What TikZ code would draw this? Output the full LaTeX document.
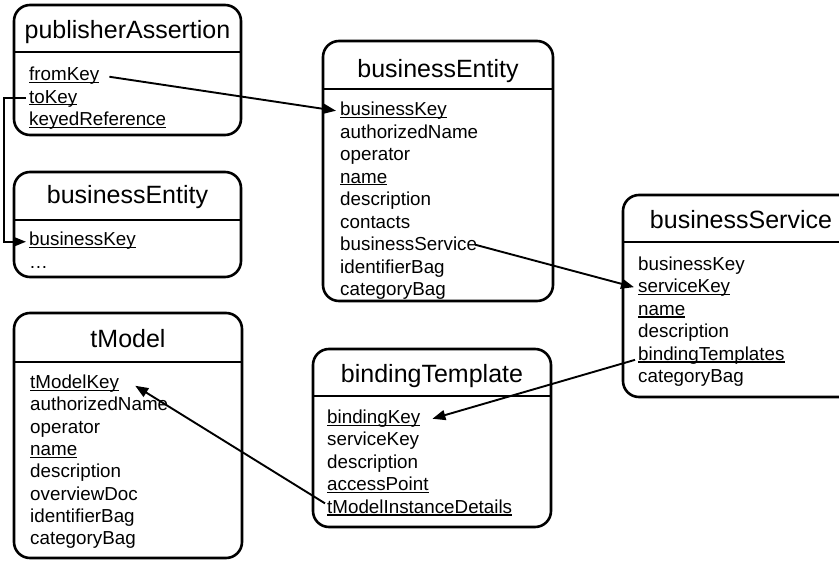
\documentclass[tikz,border=0pt]{standalone}
\usepackage{fontspec}
\setmainfont{Liberation Sans}
\usetikzlibrary{arrows.meta}
\newcommand\ulx[1]{\setbox0\hbox{#1}\rlap{\rule[-2.4pt]{\wd0}{1.3pt}}\box0}
\begin{document}
\begin{tikzpicture}[x=1pt,y=-1pt,
 boxline/.style={line width=2.6pt, rounded corners=16pt},
 divline/.style={line width=2.2pt},
 item/.style={anchor=base west, inner sep=0pt, font=\fontsize{18.8}{22}\selectfont, text height=13.5pt, text depth=4pt},
 ttl/.style={anchor=base, inner sep=0pt, font=\fontsize{25}{30}\selectfont},
 conn/.style={line width=1.9pt},
 arr/.style={conn, -{Triangle[length=13pt,width=10pt]}}]
\useasboundingbox (0,0) rectangle (839,562);
\clip (0,0) rectangle (839,562);

% boxes
\draw[boxline] (14,5) rectangle (241,135);
\draw[divline] (14,52) -- (241,52);
\draw[boxline] (14,172) rectangle (241,277);
\draw[divline] (14,220) -- (241,220);
\draw[boxline] (323,41) rectangle (553,301);
\draw[divline] (323,89) -- (553,89);
\draw[boxline] (623,195) rectangle (859,397);
\draw[divline] (623,242) -- (859,242);
\draw[boxline] (14,313) rectangle (242,558);
\draw[divline] (14,362) -- (242,362);
\draw[boxline] (313,349) rectangle (551,527);
\draw[divline] (313,396) -- (551,396);

% titles
\node[ttl] (tPA) at (127.5,38.5) {publisherAssertion};
\node[ttl] (tSBE) at (127.5,203.5) {businessEntity};
\node[ttl] (tBE) at (438,77.5) {businessEntity};
\node[ttl] (tBS) at (741,228.5) {businessService};
\node[ttl] (tTM) at (128,347.5) {tModel};
\node[ttl] (tBT) at (432,382.5) {bindingTemplate};

% publisherAssertion
\node[item] (paFrom) at (29,80.5) {\ulx{fromKey}};
\node[item] (paTo) at (29,103) {\ulx{toKey}};
\node[item] (paKR) at (29,125.5) {\ulx{keyedReference}};

% small businessEntity
\node[item] (sbeKey) at (29,245.5) {\ulx{businessKey}};
\node[item] (sbeDots) at (29,268) {…};

% big businessEntity
\node[item] (beKey) at (340,115.5) {\ulx{businessKey}};
\node[item] (beAN) at (340,138) {authorizedName};
\node[item] (beOp) at (340,160.5) {operator};
\node[item] (beName) at (340,183) {\ulx{name}};
\node[item] (beDesc) at (340,205.5) {description};
\node[item] (beCont) at (340,228) {contacts};
\node[item] (beBS) at (340,250.5) {businessService};
\node[item] (beIB) at (340,273) {identifierBag};
\node[item] (beCB) at (340,295.5) {categoryBag};

% businessService
\node[item] (bsBK) at (638,270.5) {businessKey};
\node[item] (bsSK) at (638,292.9) {\ulx{serviceKey}};
\node[item] (bsName) at (638,315.3) {\ulx{name}};
\node[item] (bsDesc) at (638,337.7) {description};
\node[item] (bsBT) at (638,360.1) {\ulx{bindingTemplates}};
\node[item] (bsCB) at (638,382.5) {categoryBag};

% tModel
\node[item] (tmKey) at (30,388.5) {\ulx{tModelKey}};
\node[item] (tmAN) at (30,410.8) {authorizedName};
\node[item] (tmOp) at (30,433.1) {operator};
\node[item] (tmName) at (30,455.4) {\ulx{name}};
\node[item] (tmDesc) at (30,477.7) {description};
\node[item] (tmOD) at (30,500) {overviewDoc};
\node[item] (tmIB) at (30,522.3) {identifierBag};
\node[item] (tmCB) at (30,544.6) {categoryBag};

% bindingTemplate
\node[item] (btKey) at (327,423.5) {\ulx{bindingKey}};
\node[item] (btSK) at (327,445.9) {serviceKey};
\node[item] (btDesc) at (327,468.3) {description};
\node[item] (btAP) at (327,490.7) {\ulx{accessPoint}};
\node[item] (btTID) at (327,513.1) {\ulx{tModelInstanceDetails}};

% connectors
\draw[arr] ([xshift=10pt,yshift=-1pt]paFrom.east) -- ([xshift=-4pt]beKey.west);
\draw[arr] ([xshift=-3pt]paTo.west) -- ([xshift=-25pt]paTo.west) |- ([xshift=-3pt,yshift=-1pt]sbeKey.west);
\draw[arr] ([xshift=-2pt,yshift=1pt]beBS.east) -- ([xshift=-4pt,yshift=1pt]bsSK.west);
\draw[arr] ([xshift=-3pt,yshift=-4.5pt]bsBT.west) -- ([xshift=12pt]btKey.east);
\draw[arr] ([xshift=-2pt,yshift=5pt]btTID.west) -- ([xshift=16pt,yshift=-2pt]tmKey.east);
\end{tikzpicture}
\end{document}
